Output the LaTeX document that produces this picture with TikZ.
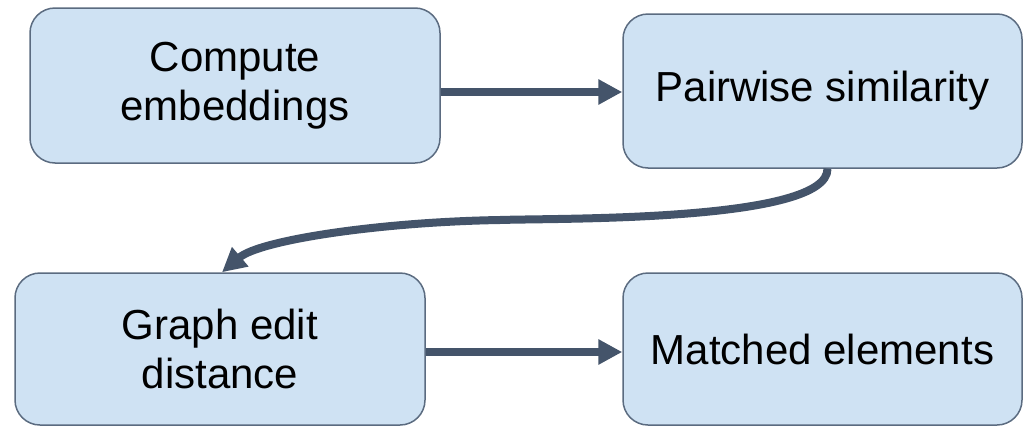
\documentclass[tikz,border=0pt]{standalone}
\usepackage{fontspec}
\setmainfont{Liberation Sans}
\usetikzlibrary{arrows.meta}
\definecolor{boxfill}{HTML}{CFE2F3}
\definecolor{boxline}{HTML}{5B6B80}
\definecolor{flow}{HTML}{44546A}
\begin{document}
\begin{tikzpicture}[x=1pt,y=-1pt,
  stage/.style={draw=boxline, line width=1.5pt, fill=boxfill, rounded corners=25pt,
    align=center, font=\fontsize{42}{49}\selectfont, inner sep=0pt},
  flowarrow/.style={draw=flow, line width=8pt, -{Triangle[length=24pt,width=24pt]}}]
  \useasboundingbox (0,0) rectangle (1023,426);
  \node[stage, minimum width=410pt, minimum height=155pt] (emb) at (235,85.5) {Compute\\embeddings};
  \node[stage, minimum width=399pt, minimum height=154pt] (sim) at (822.5,91) {Pairwise similarity};
  \node[stage, minimum width=410pt, minimum height=152pt] (ged) at (220,349) {Graph edit\\distance};
  \node[stage, minimum width=399pt, minimum height=152pt] (match) at (822.5,349) {Matched elements};
  \draw[flowarrow] (emb.east |- 0,92) -- (sim.west |- 0,92);
  \draw[flowarrow] (ged.east |- 0,352) -- (match.west |- 0,352);
  \draw[flowarrow] ([xshift=5pt]sim.south) .. controls (828,222) and (560,218) .. (500,220)
    .. controls (380,222) and (260,240) .. ([xshift=2pt]ged.north);
\end{tikzpicture}
\end{document}
